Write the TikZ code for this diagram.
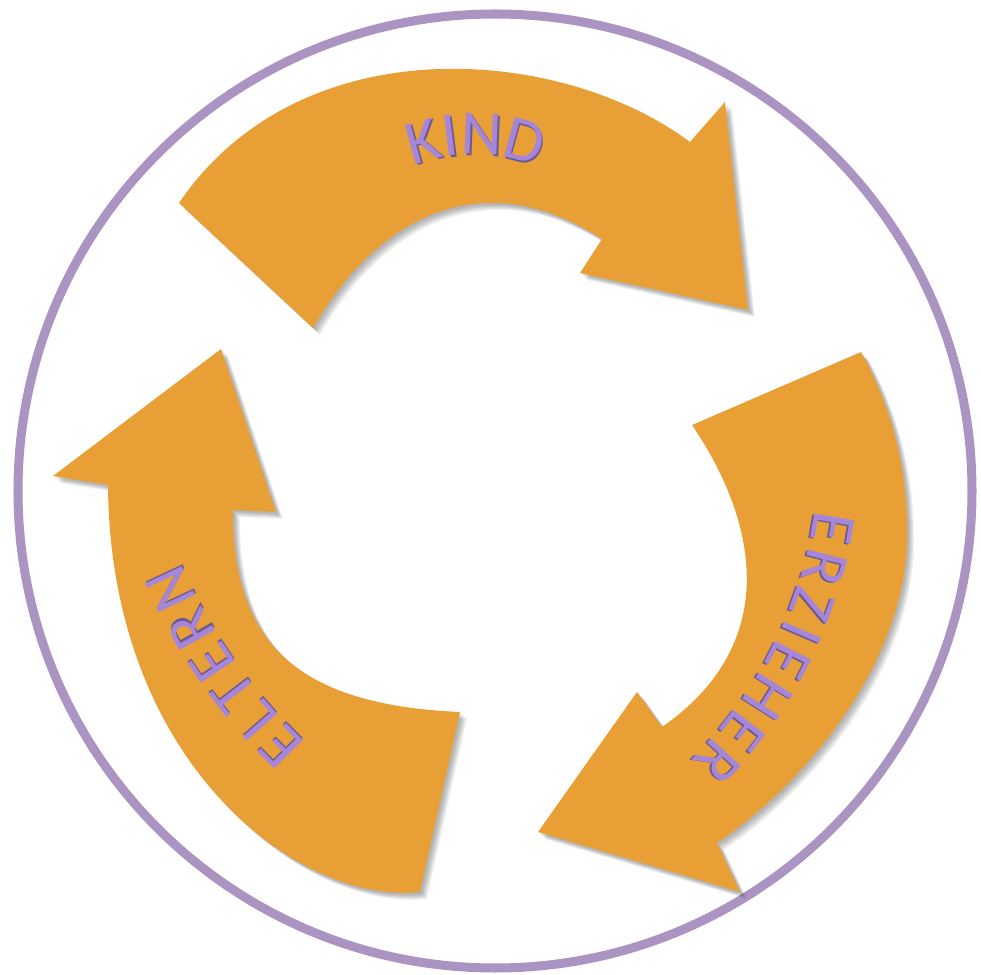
\documentclass[tikz,border=0pt]{standalone}
\usepackage{fontspec}
\setmainfont{Carlito}

\definecolor{ringpurple}{RGB}{171,147,194}
\definecolor{arroworange}{RGB}{232,160,54}
\definecolor{letterfill}{RGB}{165,134,216}
\definecolor{lettershade}{RGB}{108,88,146}

% raised lettering: a darker copy sits just below and right of the fill
\newcommand\embossed[1]{\makebox[0pt][l]{\kern0.45pt\raisebox{-0.45pt}{\color{lettershade}#1}}{\color{letterfill}#1}}

% outlines of the three curved arrows (units: 1 = 0.01cm)
\newcommand\kindarrow{(179,772) -- (313,647) .. controls (375,755) and (480,815) .. (602,736) -- (580,702) -- (748,665) -- (725,873) -- (690,833) .. controls (560,930) and (300,950) .. (179,772) -- cycle}
\newcommand\erzarrow{(861,623) -- (692,550) .. controls (760,450) and (780,330) .. (662,248) -- (637,283) -- (538,143) -- (740,83) -- (717,132) .. controls (810,195) and (910,320) .. (907,445) .. controls (907,520) and (885,580) .. (861,623) -- cycle}
\newcommand\elternarrow{(420,83) -- (460,263) .. controls (300,270) and (232,330) .. (233,465) -- (276,463) -- (221,626) -- (53,499) -- (108,490) .. controls (110,210) and (300,70) .. (420,83) -- cycle}

\tikzset{
  ring/.style={draw=ringpurple, line width=0.09cm},
  arrowbody/.style={fill=arroworange},
  arrowshadow/.style={fill=black, opacity=0.055},
  letter/.style={inner sep=0pt, font=\fontsize{18}{20}\selectfont}
}

\begin{document}
\begin{tikzpicture}[x=0.01cm, y=0.01cm]
\useasboundingbox (0,0) rectangle (981,975);

% outer ring
\draw[ring] (495,484) circle[radius=477];

% soft drop shadows
\foreach \s in {2,...,7} {
  \fill[arrowshadow, shift={(\s,-\s)}] \kindarrow;
  \fill[arrowshadow, shift={(\s,-\s)}] \erzarrow;
  \fill[arrowshadow, shift={(\s,-\s)}] \elternarrow;
}

% arrows
\fill[arrowbody] \kindarrow;
\fill[arrowbody] \erzarrow;
\fill[arrowbody] \elternarrow;

% curved labels, one letter at a time around each arc centre
\coordinate (kindc) at (474,648);
\coordinate (erzc) at (378,525.5);
\coordinate (eltc) at (681.5,625.6);

\foreach \ch/\a [count=\i] in {K/105.5, I/97.2, N/87.7, D/74.8}
  \node[letter, rotate=\a-90] (kind\i) at ([shift={(\a:192)}]kindc) {\embossed{\ch}};

\foreach \ch/\a [count=\i] in {E/-9.8, R/-14.73, Z/-19.63, I/-23.38, E/-27.17, H/-32.41, E/-37.65, R/-42.58}
  \node[letter, rotate=\a-90] (erz\i) at ([shift={(\a:461)}]erzc) {\embossed{\ch}};

\foreach \ch/\a [count=\i] in {E/-135.2, L/-138.82, T/-142.44, E/-146.28, R/-150.29, N/-154.81}
  \node[letter, rotate=\a-90] (elt\i) at ([shift={(\a:564)}]eltc) {\embossed{\ch}};
\end{tikzpicture}
\end{document}
